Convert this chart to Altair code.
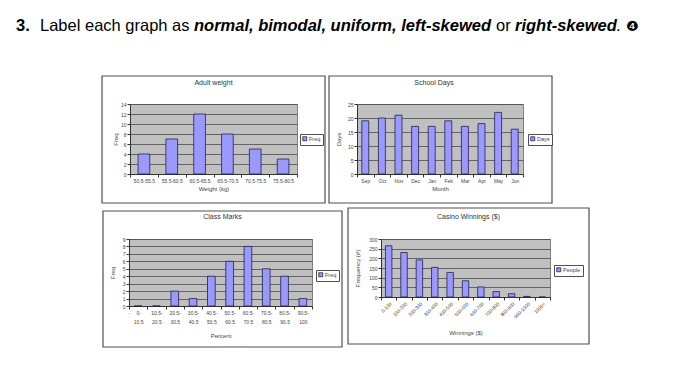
import altair as alt
import pandas as pd

FONT = "Liberation Sans"

# ---------------- data ----------------
prompt_parts = ["3.", "Label each graph as", "normal, bimodal, uniform, left-skewed",
                "or", "right-skewed", ".", "\u2779"]

weight_bins = ["50.5-55.5", "55.5-60.5", "60.5-65.5", "65.5-70.5", "70.5-75.5", "75.5-80.5"]
weight_freq = [4, 7, 12, 8, 5, 3]

months = ["Sep", "Oct", "Nov", "Dec", "Jan", "Feb", "Mar", "Apr", "May", "Jun"]
school_days = [19, 20, 21, 17, 17, 19, 17, 18, 22, 16]

mark_bins = ["0-10.5", "10.5-20.5", "20.5-30.5", "30.5-40.5", "40.5-50.5",
             "50.5-60.5", "60.5-70.5", "70.5-80.5", "80.5-90.5", "90.5-100"]
mark_freq = [0, 0, 2, 1, 4, 6, 8, 5, 4, 1]

win_bins = ["0-100", "100-200", "200-300", "300-400", "400-500", "500-600",
            "600-700", "700-800", "800-900", "900-1000", "1000+"]
win_people = [265, 230, 192, 153, 127, 84, 52, 28, 17, 3, 0]

# ---------------- styles ----------------
BAR_FILL = "#9999ff"
BAR_EDGE = "#22224a"
PLOT_BG = "#c0c0c0"
GRID = "#4d4d4d"
FRAME = "#505050"
TXT = "#444444"

dummy = pd.DataFrame({"k": [0]})


def panel(cats, vals, series, title, xtitle, ytitle, W, H, frame, title_dx, title_off,
          legend_xy, ytitle_x, xtitle_y, ymax, ystep, xlabel_size=5, xlabel_angle=0,
          two_line=False, line_h=9):
    df = pd.DataFrame({"cat": cats, "val": vals, "series": series})
    xaxis_kw = dict(title=xtitle, tickBand="extent", labelAngle=xlabel_angle,
                    labelFontSize=xlabel_size, labelFont=FONT, labelColor=TXT,
                    labelPadding=1, labelOverlap=False, tickSize=3, tickColor="#333",
                    domainColor="#333", titleFont=FONT, titleFontSize=6,
                    titleFontWeight="normal", titleColor=TXT, titleY=xtitle_y,
                    titleBaseline="middle", grid=False)
    if two_line:
        xaxis_kw["labelExpr"] = "[split(datum.label, '-')[0] + '-', split(datum.label, '-')[1]]"
        xaxis_kw["labelLineHeight"] = line_h
        xaxis_kw["labelBaseline"] = "top"
    x = alt.X("cat:N", sort=None, scale=alt.Scale(paddingInner=0, paddingOuter=0),
              axis=alt.Axis(**xaxis_kw))
    y = alt.Y("val:Q", scale=alt.Scale(domain=[0, ymax], nice=False),
              axis=alt.Axis(values=list(range(0, ymax + 1, ystep)), title=ytitle,
                            grid=True, gridColor=GRID, gridWidth=0.8,
                            labelFontSize=5, labelFont=FONT, labelColor=TXT,
                            labelPadding=1, tickSize=3, tickColor="#333",
                            domainColor="#333", titleFont=FONT, titleFontSize=6,
                            titleFontWeight="normal", titleColor=TXT,
                            titleX=ytitle_x, titleBaseline="middle"))
    color = alt.Color("series:N", scale=alt.Scale(range=[BAR_FILL]),
                      legend=alt.Legend(orient="none", legendX=legend_xy[0],
                                        legendY=legend_xy[1], title=None,
                                        symbolType="square", symbolSize=16,
                                        symbolStrokeColor=BAR_EDGE, symbolStrokeWidth=0.8,
                                        labelFont=FONT, labelFontSize=5.5,
                                        labelColor=TXT, labelOffset=1.5, padding=2,
                                        strokeColor=FRAME, fillColor="white"))
    bars = alt.Chart(df).mark_bar(width=alt.RelativeBandSize(0.42), stroke=BAR_EDGE,
                                  strokeWidth=0.8).encode(x=x, y=y, color=color)
    box = alt.Chart(dummy).mark_rect(filled=False, stroke=FRAME, strokeWidth=1.2).encode(
        x=alt.value(frame[0]), x2=alt.value(frame[1]),
        y=alt.value(frame[2]), y2=alt.value(frame[3]))
    return alt.layer(bars, box).properties(
        width=W, height=H,
        view=alt.ViewBackground(fill=PLOT_BG, stroke="#808080"),
        title=alt.TitleParams(text=title, anchor="middle", frame="group",
                              offset=title_off, dx=title_dx, baseline="middle",
                              font=FONT, fontSize=7, fontWeight="normal", color="#333"))


def spacer(w):
    return alt.Chart(dummy).mark_point(opacity=0, size=0).encode(
        x=alt.value(5), y=alt.value(5)).properties(
        width=w, height=10, view=alt.ViewBackground(stroke=None))


c1 = panel(weight_bins, weight_freq, "Freq", "Adult weight", "Weight (kg)", "Freq",
           167, 70, (-28, 195, -28, 99), 0, -15, (170, 30), -15, 14, 14, 2)
c2 = panel(months, school_days, "Days", "School Days", "Month", "Days",
           166, 70, (-28, 195, -28, 99), -6, -15, (171, 30), -19, 14, 25, 5)
c3 = panel(mark_bins, mark_freq, "Freq", "Class Marks", "Percent", "Freq",
           183, 67, (-26, 213, -28, 108), 2, -14, (187, 31), -17, 29, 9, 1,
           two_line=True)
c4 = panel(win_bins, win_people, "People", "Casino Winnings ($)", "Winnings ($)",
           "Frequency (#)", 169, 58, (-33, 208, -31, 105), 3, -17, (173, 26), -24, 35,
           300, 50, xlabel_size=4.8, xlabel_angle=-45)

# ---------------- header ----------------
header_styles = [
    dict(fontWeight="bold", fontStyle="normal", x=8),
    dict(fontWeight="normal", fontStyle="normal", x=32),
    dict(fontWeight="bold", fontStyle="italic", x=186),
    dict(fontWeight="normal", fontStyle="normal", x=488),
    dict(fontWeight="bold", fontStyle="italic", x=507),
    dict(fontWeight="normal", fontStyle="normal", x=608),
    dict(fontWeight="normal", fontStyle="normal", x=618),
]
texts = []
for part, st in zip(prompt_parts, header_styles):
    is_badge = part == "\u2779"
    texts.append(
        alt.Chart(dummy).mark_text(
            text=part, align="left", baseline="alphabetic",
            font="DejaVu Sans" if is_badge else FONT,
            fontSize=14 if is_badge else 16.5,
            fontWeight=st["fontWeight"], fontStyle=st["fontStyle"], color="#000000"
        ).encode(x=alt.value(st["x"]), y=alt.value(23))
    )
header = alt.layer(*texts).properties(width=660, height=61,
                                      view=alt.ViewBackground(stroke=None))

row1 = alt.hconcat(spacer(92), c1, c2, spacing=0).resolve_scale(color="independent")
row2 = alt.hconcat(spacer(91), c3, c4, spacing=2).resolve_scale(color="independent")
rows = alt.vconcat(row1, row2, spacing=1).resolve_scale(color="independent")

chart = alt.vconcat(header, rows, spacing=5).resolve_scale(
    color="independent").properties(padding=0).configure(font=FONT)

chart.save("out.html", embed_options={"renderer": "svg", "actions": False})
